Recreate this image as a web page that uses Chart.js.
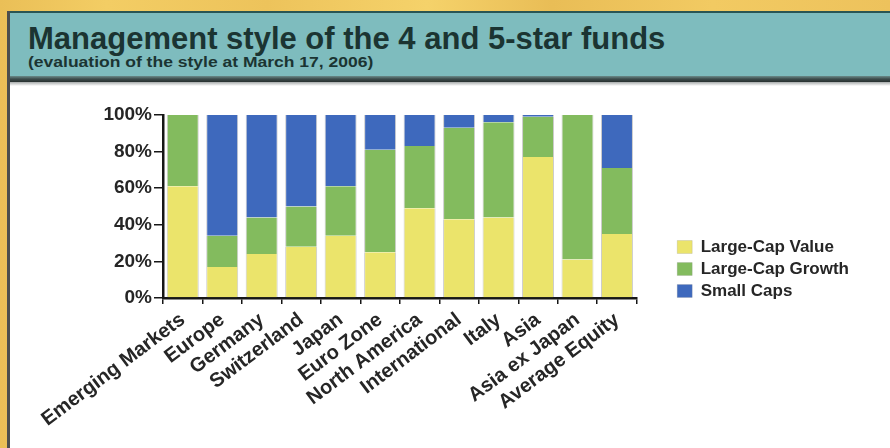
<!DOCTYPE html>
<html>
<head>
<meta charset="utf-8">
<title>Management style of the 4 and 5-star funds</title>
<script src="https://cdn.jsdelivr.net/npm/chart.js@4.4.1/dist/chart.umd.min.js"></script>
<style>
  html, body { margin: 0; padding: 0; }
  body {
    width: 890px; height: 448px; position: relative; overflow: hidden;
    font-family: "Liberation Sans", Arial, sans-serif;
    background: linear-gradient(90deg, #eabf57 0%, #f3cd64 12%, #edc35b 30%, #f5d26a 48%, #e9bd56 62%, #f2ca62 80%, #edc25c 100%);
  }
  #panel {
    position: absolute; left: 7px; top: 11px; right: 0; bottom: 0;
    background: #fff; border-left: 3px solid #4b4e4e;
  }
  #header {
    position: absolute; left: 0; top: 0; right: 0; height: 63px;
    background: #7ebcbe; border-top: 2px solid #2a5553;
  }
  #rule {
    position: absolute; left: 0; right: 0; top: 65px; height: 6px;
    background: linear-gradient(180deg, #6a8b8a 0%, #3d4c4c 50%, #27302f 100%);
  }
  #shade {
    position: absolute; left: 0; right: 0; top: 71px; height: 4px;
    background: linear-gradient(180deg, #a7abab 0%, #ffffff 100%);
  }
  #title {
    position: absolute; left: 28px; top: 23px; margin: 0;
    font-size: 31px; line-height: 31px; font-weight: bold; color: #1b3432;
    white-space: nowrap;
  }
  #subtitle {
    position: absolute; left: 28px; top: 55px; margin: 0;
    font-size: 14px; line-height: 14px; font-weight: bold; color: #1b3432;
    white-space: nowrap; transform: scaleX(1.25); transform-origin: left top;
  }
  #chart { position: absolute; left: 10px; top: 84px; }
</style>
</head>
<body>
<div id="panel">
  <div id="header"></div>
  <div id="rule"></div>
  <div id="shade"></div>
</div>
<h1 id="title">Management style of the 4 and 5-star funds</h1>
<div id="subtitle">(evaluation of the style at March 17, 2006)</div>
<canvas id="chart" width="880" height="364"></canvas>

<script>
// fund categories and their style split, in percent
const categories = [
  'Emerging Markets', 'Europe', 'Germany', 'Switzerland', 'Japan', 'Euro Zone',
  'North America', 'International', 'Italy', 'Asia', 'Asia ex Japan', 'Average Equity'
];
const largeCapValue  = [61, 17, 24, 28, 34, 25, 49, 43, 44, 77, 21, 35];
const largeCapGrowth = [39, 17, 20, 22, 27, 56, 34, 50, 52, 22, 79, 36];
const smallCaps      = [ 0, 66, 56, 50, 39, 19, 17,  7,  4,  1,  0, 29];
const percentTicks   = [0, 20, 40, 60, 80, 100];

const fontFamily = '"Liberation Sans", Arial, sans-serif';
const inkColor = '#262626';
const axisColor = '#161616';

// empty axes used only to reserve space around the plot
const spacer = (position, size) => ({
    type: 'linear',
    position: position,
    display: true,
    grid: { display: false },
    border: { display: false },
    ticks: { display: false },
    afterFit: scale => {
        if (position === 'top') scale.height = size;
        else scale.width = size;
    }
});

new Chart(document.getElementById('chart'), {
    type: 'bar',
    data: {
        labels: categories,
        datasets: [
            { label: 'Large-Cap Value', data: largeCapValue, backgroundColor: '#ebe46b' },
            { label: 'Large-Cap Growth', data: largeCapGrowth, backgroundColor: '#83bb5e' },
            { label: 'Small Caps', data: smallCaps, backgroundColor: '#3e69bd' }
        ]
    },
    options: {
        responsive: false,
        animation: false,
        layout: { padding: { top: 6, right: 31, bottom: 0, left: 0 } },
        datasets: {
            bar: {
                barPercentage: 0.81,
                categoryPercentage: 1,
                borderWidth: { left: 1, right: 1, top: 0, bottom: 0 },
                borderColor: 'rgba(140,140,140,0.45)'
            }
        },
        scales: {
            x: {
                stacked: true,
                grid: {
                    drawOnChartArea: false, drawTicks: true, offset: true,
                    tickLength: 6, color: axisColor, lineWidth: 1.5
                },
                border: { display: true, color: axisColor, width: 2.5 },
                ticks: {
                    autoSkip: false, minRotation: 37, maxRotation: 37, padding: 4,
                    color: inkColor, font: { family: fontFamily, size: 20, weight: 'bold' }
                },
                afterFit: scale => { scale.height = 150; }
            },
            y: {
                stacked: true,
                min: 0,
                max: 100,
                grid: { drawOnChartArea: false, tickLength: 9, color: axisColor, lineWidth: 1.5 },
                border: { display: true, color: axisColor, width: 2.5 },
                ticks: {
                    padding: 2, color: inkColor,
                    font: { family: fontFamily, size: 19, weight: 'bold' },
                    callback: v => v + '%'
                },
                afterBuildTicks: scale => { scale.ticks = percentTicks.map(v => ({ value: v })); },
                afterFit: scale => { scale.width = 153; }
            },
            topSpace: spacer('top', 25),
            rightSpace: spacer('right', 35.5)
        },
        plugins: {
            legend: {
                position: 'right',
                align: 'center',
                maxWidth: 200,
                labels: {
                    boxWidth: 15, boxHeight: 13, padding: 5, color: inkColor,
                    font: { family: fontFamily, size: 17, weight: 'bold' }
                }
            },
            tooltip: { enabled: false }
        }
    }
});
</script>
</body>
</html>
